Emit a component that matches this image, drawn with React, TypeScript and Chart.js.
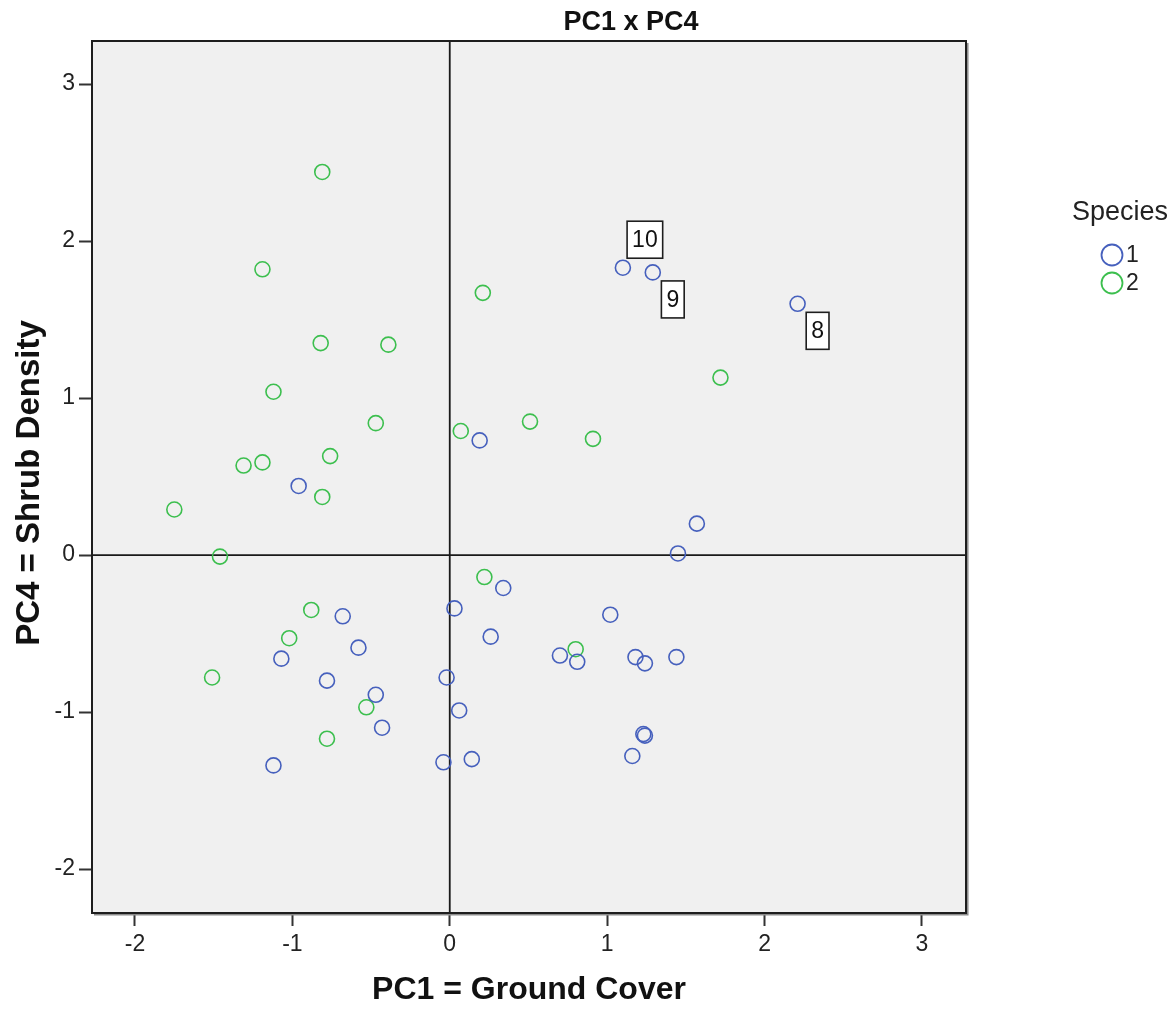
import { useEffect, useRef } from 'react';
import { Chart, registerables } from 'chart.js';

Chart.register(...registerables);

const chartTitle = 'PC1 x PC4';
const xAxisTitle = 'PC1 = Ground Cover';
const yAxisTitle = 'PC4 = Shrub Density';
const legendTitle = 'Species';
const speciesLabels = ['1', '2'];
const speciesColors = ['#4660bd', '#3cbf4e'];

// Species 1 (blue)
const species1X = [1.10, 1.29, 2.21, 0.19, -0.96, 1.57, 1.45, 0.34, 0.03, -0.68, 1.02, 0.26, -0.58, -1.07, 0.70, 0.81, 1.18, 1.24, 1.44, -0.78, -0.02, -0.47, 0.06, -0.43, 1.23, 1.24, -1.12, -0.04, 0.14, 1.16];
const species1Y = [1.83, 1.80, 1.60, 0.73, 0.44, 0.20, 0.01, -0.21, -0.34, -0.39, -0.38, -0.52, -0.59, -0.66, -0.64, -0.68, -0.65, -0.69, -0.65, -0.80, -0.78, -0.89, -0.99, -1.10, -1.14, -1.15, -1.34, -1.32, -1.30, -1.28];

// Species 2 (green)
const species2X = [-0.81, -1.19, 0.21, -0.82, -0.39, -1.12, 1.72, -0.47, 0.07, 0.51, 0.91, -0.76, -1.31, -1.19, -0.81, -1.75, -1.46, 0.22, -0.88, -1.02, 0.80, -1.51, -0.53, -0.78];
const species2Y = [2.44, 1.82, 1.67, 1.35, 1.34, 1.04, 1.13, 0.84, 0.79, 0.85, 0.74, 0.63, 0.57, 0.59, 0.37, 0.29, -0.01, -0.14, -0.35, -0.53, -0.60, -0.78, -0.97, -1.17];

// Case labels attached to species 1 points
const labelIndex = [0, 1, 2];
const labelText = ['10', '9', '8'];
const labelSide = ['above', 'below', 'below'];

const xMin = -2.273;
const xMax = 3.28;
const yMin = -2.28;
const yMax = 3.274;
const tickStep = 1;

const FONT = "'Liberation Sans', Arial, sans-serif";

const toPoints = (xs: number[], ys: number[]) => xs.map((x, i) => ({ x, y: ys[i] }));

const decorPlugin = {
  id: 'decor',
  beforeDatasetsDraw(chart: any) {
    const { ctx, chartArea: a, scales } = chart;
    ctx.save();
    ctx.fillStyle = '#f0f0f0';
    ctx.fillRect(a.left, a.top, a.right - a.left, a.bottom - a.top);
    const x0 = scales.x.getPixelForValue(0);
    const y0 = scales.y.getPixelForValue(0);
    ctx.strokeStyle = '#1a1a1a';
    ctx.lineWidth = 1.8;
    ctx.beginPath();
    ctx.moveTo(x0, a.top);
    ctx.lineTo(x0, a.bottom);
    ctx.moveTo(a.left, y0);
    ctx.lineTo(a.right, y0);
    ctx.stroke();
    ctx.restore();
  },
  afterDatasetsDraw(chart: any) {
    const { ctx, chartArea: a } = chart;
    ctx.save();
    // frame with a light shadow on the right and bottom
    ctx.strokeStyle = '#8c8c8c';
    ctx.lineWidth = 1.5;
    ctx.beginPath();
    ctx.moveTo(a.right + 1.8, a.top + 2);
    ctx.lineTo(a.right + 1.8, a.bottom + 1.8);
    ctx.lineTo(a.left + 2, a.bottom + 1.8);
    ctx.stroke();
    ctx.strokeStyle = '#1e1e1e';
    ctx.lineWidth = 2;
    ctx.strokeRect(a.left, a.top, a.right - a.left, a.bottom - a.top);

    // case labels
    const meta = chart.getDatasetMeta(0);
    ctx.font = `23px ${FONT}`;
    ctx.textAlign = 'center';
    ctx.textBaseline = 'middle';
    labelIndex.forEach((idx, k) => {
      const el = meta.data[idx];
      if (!el) return;
      const t = labelText[k];
      const w = ctx.measureText(t).width + 10;
      const h = 37;
      const cx = el.x + (labelSide[k] === 'above' ? 22 : 20);
      const cy = el.y + (labelSide[k] === 'above' ? -28 : 27);
      ctx.fillStyle = '#ffffff';
      ctx.fillRect(cx - w / 2, cy - h / 2, w, h);
      ctx.strokeStyle = '#1e1e1e';
      ctx.lineWidth = 1.6;
      ctx.strokeRect(cx - w / 2, cy - h / 2, w, h);
      ctx.fillStyle = '#111';
      ctx.fillText(t, cx, cy + 1);
    });
    ctx.restore();
  },
  afterDraw(chart: any) {
    const { ctx, chartArea: a } = chart;
    ctx.save();
    ctx.fillStyle = '#111';
    // chart title
    ctx.font = `bold 27px ${FONT}`;
    ctx.textAlign = 'center';
    ctx.textBaseline = 'middle';
    ctx.fillText(chartTitle, 623, 15);
    // x axis title
    ctx.font = `bold 32px ${FONT}`;
    ctx.textBaseline = 'alphabetic';
    ctx.fillText(xAxisTitle, (a.left + a.right) / 2, 991);
    ctx.textBaseline = 'middle';
    // y axis title
    ctx.save();
    ctx.translate(22, (a.top + a.bottom) / 2 + 6);
    ctx.rotate(-Math.PI / 2);
    ctx.font = `bold 33px ${FONT}`;
    ctx.fillText(yAxisTitle, 0, 0);
    ctx.restore();
    // legend
    ctx.font = `27px ${FONT}`;
    ctx.fillStyle = '#222';
    ctx.fillText(legendTitle, 1112, 205);
    ctx.font = `23px ${FONT}`;
    ctx.textAlign = 'left';
    chart.data.datasets.forEach((ds: any, i: number) => {
      const cy = 247 + i * 28;
      ctx.beginPath();
      ctx.arc(1104, cy, 10.5, 0, Math.PI * 2);
      ctx.strokeStyle = ds.borderColor;
      ctx.lineWidth = 1.8;
      ctx.stroke();
      ctx.fillStyle = '#222';
      ctx.fillText(ds.label, 1118, cy + 1);
    });
    ctx.restore();
  },
};

export default function App() {
  const canvasRef = useRef<HTMLCanvasElement | null>(null);

  useEffect(() => {
    if (!canvasRef.current) return;
    const chart = new Chart(canvasRef.current, {
      type: 'scatter',
      data: {
        datasets: [
          {
            label: speciesLabels[0],
            data: toPoints(species1X, species1Y),
            borderColor: speciesColors[0],
            backgroundColor: 'rgba(0,0,0,0)',
            pointRadius: 7.5,
            pointHoverRadius: 7.5,
            borderWidth: 1.6,
          },
          {
            label: speciesLabels[1],
            data: toPoints(species2X, species2Y),
            borderColor: speciesColors[1],
            backgroundColor: 'rgba(0,0,0,0)',
            pointRadius: 7.5,
            pointHoverRadius: 7.5,
            borderWidth: 1.6,
          },
        ],
      },
      options: {
        animation: false,
        responsive: true,
        maintainAspectRatio: false,
        layout: { padding: { top: 33, right: 201, left: 0, bottom: 0 } },
        plugins: {
          legend: { display: false },
          title: { display: false },
          tooltip: { enabled: false },
        },
        scales: {
          x: {
            type: 'linear',
            min: xMin,
            max: xMax,
            border: { display: false },
            grid: { drawOnChartArea: false, drawTicks: true, tickLength: 13, tickColor: '#333', tickWidth: 2 },
            ticks: {
              stepSize: tickStep,
              includeBounds: false,
              padding: 5,
              color: '#222',
              font: { family: FONT, size: 23 },
              maxRotation: 0,
            },
            afterFit: (scale: any) => {
              scale.height = 88;
            },
          },
          y: {
            type: 'linear',
            min: yMin,
            max: yMax,
            border: { display: false },
            grid: { drawOnChartArea: false, drawTicks: true, tickLength: 13, tickColor: '#333', tickWidth: 2 },
            ticks: {
              stepSize: tickStep,
              includeBounds: false,
              padding: 4,
              color: '#222',
              font: { family: FONT, size: 23 },
            },
            afterFit: (scale: any) => {
              scale.width = 84;
            },
          },
        },
      },
      plugins: [decorPlugin],
    });
    return () => chart.destroy();
  }, []);

  return (
    <div style={{ position: 'relative', width: 1159, height: 993 }}>
      <canvas ref={canvasRef} />
    </div>
  );
}
